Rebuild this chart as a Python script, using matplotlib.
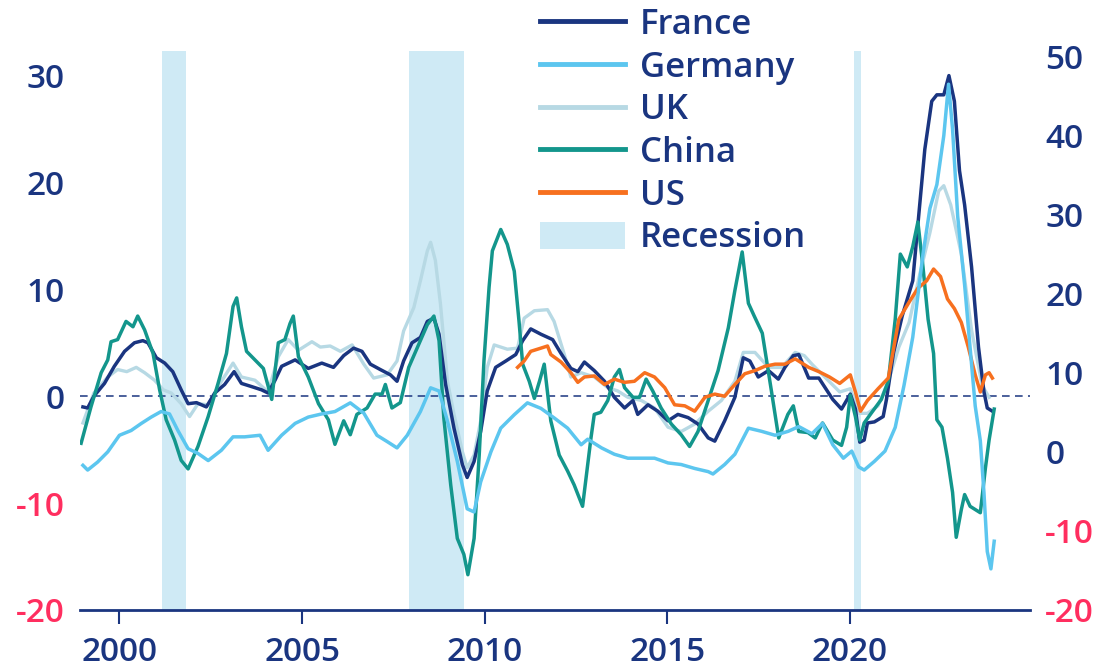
import numpy as np
import matplotlib.pyplot as plt
from matplotlib.lines import Line2D
from matplotlib.patches import Patch

plt.rcParams.update({
    "font.family": ["Open Sans", "DejaVu Sans"],
    "font.size": 24,
    "font.weight": 600,
})

NAVY = "#1a3580"
RED = "#ff2e5f"

# year-on-year %
france_t = [1999.0, 1999.13, 1999.3, 1999.59, 1999.86, 2000.14, 2000.41, 2000.64, 2000.78, 2001.01,
            2001.24, 2001.46, 2001.69, 2001.88, 2002.11, 2002.38, 2002.61, 2002.88, 2003.14, 2003.34,
            2003.62, 2003.89, 2004.07, 2004.26, 2004.44, 2004.81, 2005.17, 2005.54, 2005.86, 2006.14,
            2006.41, 2006.64, 2006.87, 2007.14, 2007.42, 2007.6, 2007.78, 2008.01, 2008.24, 2008.43,
            2008.61, 2008.75, 2008.93, 2009.16, 2009.39, 2009.52, 2009.71, 2009.89, 2010.07, 2010.3,
            2010.58, 2010.85, 2011.04, 2011.26, 2011.54, 2011.86, 2012.09, 2012.36, 2012.55, 2012.73,
            2013.0, 2013.28, 2013.55, 2013.83, 2014.06, 2014.19, 2014.47, 2014.74, 2015.02, 2015.29,
            2015.57, 2015.84, 2016.12, 2016.3, 2016.57, 2016.85, 2017.08, 2017.26, 2017.49, 2017.77,
            2018.04, 2018.22, 2018.45, 2018.6, 2018.87, 2019.15, 2019.34, 2019.53, 2019.77, 2020.01,
            2020.15, 2020.27, 2020.39, 2020.48, 2020.67, 2020.91, 2021.0, 2021.19, 2021.43, 2021.72,
            2021.91, 2022.05, 2022.24, 2022.38, 2022.57, 2022.71, 2022.86, 2023.0, 2023.14, 2023.33,
            2023.52, 2023.67, 2023.76, 2023.9]
france_v = [-1.0, -1.1, 0.0, 1.2, 2.8, 4.2, 5.0, 5.2, 5.0, 3.6,
            3.1, 2.3, 0.6, -0.7, -0.6, -1.0, 0.3, 1.1, 2.3, 1.2,
            0.9, 0.6, 0.3, 1.5, 2.8, 3.4, 2.6, 3.1, 2.7, 3.8,
            4.5, 4.2, 3.0, 2.5, 2.0, 1.4, 3.3, 5.0, 5.5, 7.0,
            7.3, 5.8, 1.1, -3.0, -6.4, -7.6, -6.1, -3.3, 0.5, 2.7,
            3.3, 3.9, 5.2, 6.3, 5.8, 5.3, 4.0, 2.6, 2.3, 3.2,
            2.4, 1.4, -0.1, -1.1, -0.4, -1.7, -0.8, -1.4, -2.3, -1.7,
            -2.0, -2.6, -3.9, -4.2, -2.3, -0.1, 3.6, 3.3, 1.8, 2.4,
            1.6, 2.7, 3.8, 3.9, 1.7, 1.7, 0.7, -0.3, -1.2, 0.2,
            -1.2, -4.3, -4.1, -2.5, -2.4, -1.9, -0.3, 4.0, 7.5, 10.8,
            17.9, 23.1, 27.6, 28.2, 28.2, 30.0, 27.6, 21.1, 17.9, 12.1,
            4.6, 0.4, -1.1, -1.4]

# Germany is on the right-hand scale
germany_t = [1999.0, 1999.13, 1999.4, 1999.68, 2000.0, 2000.32, 2000.6, 2000.87, 2001.14, 2001.37,
             2001.6, 2001.88, 2002.15, 2002.43, 2002.79, 2003.11, 2003.43, 2003.85, 2004.07, 2004.44,
             2004.81, 2005.17, 2005.54, 2005.9, 2006.32, 2006.69, 2007.05, 2007.33, 2007.6, 2007.88,
             2008.24, 2008.52, 2008.75, 2008.98, 2009.25, 2009.52, 2009.71, 2009.89, 2010.17, 2010.44,
             2010.81, 2011.17, 2011.54, 2011.9, 2012.27, 2012.64, 2012.82, 2013.2, 2013.55, 2013.92,
             2014.29, 2014.65, 2015.02, 2015.38, 2015.75, 2016.12, 2016.25, 2016.57, 2016.85, 2017.22,
             2017.58, 2017.95, 2018.31, 2018.6, 2018.96, 2019.25, 2019.53, 2019.82, 2020.05, 2020.24,
             2020.39, 2020.67, 2020.96, 2021.24, 2021.48, 2021.72, 2022.0, 2022.19, 2022.38, 2022.57,
             2022.7, 2022.81, 2022.95, 2023.14, 2023.43, 2023.57, 2023.67, 2023.76, 2023.86, 2023.95]
germany_v = [-1.7, -2.3, -1.3, 0.0, 2.1, 2.7, 3.6, 4.4, 5.1, 4.8,
             2.7, 0.4, -0.2, -1.1, 0.2, 1.9, 1.9, 2.1, 0.2, 2.1,
             3.6, 4.4, 4.8, 5.1, 6.2, 4.9, 2.1, 1.3, 0.5, 2.1,
             5.1, 8.1, 7.7, 3.9, -1.2, -7.2, -7.6, -3.8, 0.0, 3.0,
             4.7, 6.2, 5.5, 4.3, 3.0, 0.9, 1.6, 0.5, -0.3, -0.8,
             -0.8, -0.8, -1.4, -1.6, -2.1, -2.5, -2.8, -1.6, -0.3, 3.0,
             2.6, 2.1, 2.6, 3.2, 2.3, 3.6, 0.9, -0.8, 0.1, -1.9,
             -2.3, -1.2, 0.1, 3.1, 8.4, 14.5, 25.0, 30.8, 33.8, 40.0,
             46.5, 40.8, 29.8, 21.1, 5.8, 1.4, -5.2, -12.6, -14.8, -11.3]

uk_t = [1999.0, 1999.3, 1999.68, 1999.95, 2000.2, 2000.46, 2000.69, 2000.96, 2001.2, 2001.42,
        2001.69, 2001.92, 2002.15, 2002.43, 2002.7, 2003.11, 2003.34, 2003.71, 2004.07, 2004.35,
        2004.62, 2004.9, 2005.27, 2005.5, 2005.77, 2006.05, 2006.37, 2006.69, 2006.96, 2007.33,
        2007.6, 2007.78, 2008.06, 2008.24, 2008.43, 2008.52, 2008.65, 2008.79, 2008.98, 2009.16,
        2009.39, 2009.52, 2009.71, 2009.89, 2010.07, 2010.26, 2010.62, 2010.9, 2011.08, 2011.36,
        2011.72, 2011.9, 2012.18, 2012.36, 2012.64, 2013.0, 2013.37, 2013.64, 2013.92, 2014.29,
        2014.65, 2015.02, 2015.38, 2015.75, 2016.12, 2016.48, 2016.85, 2017.08, 2017.4, 2017.77,
        2018.13, 2018.5, 2018.75, 2018.96, 2019.34, 2019.72, 2020.01, 2020.24, 2020.48, 2020.77,
        2021.05, 2021.34, 2021.62, 2021.91, 2022.19, 2022.43, 2022.57, 2022.76, 2023.05, 2023.33,
        2023.62, 2023.81]
uk_v = [-2.5, 0.3, 1.8, 2.5, 2.3, 2.7, 2.2, 1.5, 0.6, 0.3,
        -0.7, -1.9, -0.7, -0.8, 0.9, 3.1, 1.8, 1.5, 0.4, 3.7,
        5.3, 4.3, 5.1, 4.6, 4.7, 4.2, 4.8, 3.0, 1.7, 2.0,
        3.3, 6.1, 8.3, 10.8, 13.6, 14.4, 12.7, 8.6, 1.4, -1.7,
        -5.2, -6.7, -5.5, -2.3, 2.7, 4.8, 4.4, 4.5, 7.3, 8.0,
        8.1, 7.0, 3.9, 1.8, 2.2, 1.8, 0.8, 0.5, -0.1, -0.4,
        -1.1, -2.9, -3.3, -2.6, -1.4, -0.4, 1.4, 4.1, 4.1, 2.7,
        2.7, 4.1, 3.8, 3.0, 1.7, 0.4, 0.7, -1.6, -1.6, -0.9,
        1.4, 4.6, 6.9, 11.4, 15.3, 19.2, 19.7, 17.9, 13.3, 6.2,
        1.0, -0.1]

china_t = [1998.95, 1999.22, 1999.5, 1999.68, 1999.77, 1999.95, 2000.18, 2000.37, 2000.5, 2000.69,
           2000.92, 2001.1, 2001.28, 2001.51, 2001.69, 2001.88, 2002.15, 2002.43, 2002.7, 2002.93,
           2003.11, 2003.21, 2003.34, 2003.48, 2003.71, 2003.94, 2004.17, 2004.35, 2004.53, 2004.67,
           2004.76, 2004.9, 2005.17, 2005.45, 2005.72, 2005.9, 2006.14, 2006.32, 2006.5, 2006.78,
           2007.0, 2007.19, 2007.28, 2007.46, 2007.69, 2007.92, 2008.15, 2008.43, 2008.61, 2008.75,
           2008.88, 2009.07, 2009.25, 2009.43, 2009.54, 2009.71, 2009.85, 2009.98, 2010.12, 2010.21,
           2010.44, 2010.62, 2010.81, 2010.94, 2011.04, 2011.22, 2011.36, 2011.5, 2011.63, 2011.81,
           2012.04, 2012.27, 2012.45, 2012.68, 2012.91, 2013.0, 2013.18, 2013.37, 2013.55, 2013.69,
           2013.83, 2014.06, 2014.24, 2014.42, 2014.6, 2014.83, 2015.11, 2015.38, 2015.61, 2015.84,
           2016.12, 2016.39, 2016.67, 2016.85, 2017.05, 2017.22, 2017.38, 2017.6, 2017.85, 2018.05,
           2018.3, 2018.45, 2018.6, 2018.85, 2019.05, 2019.25, 2019.53, 2019.77, 2019.91, 2020.01,
           2020.15, 2020.27, 2020.39, 2020.58, 2020.86, 2021.05, 2021.24, 2021.38, 2021.57, 2021.72,
           2021.86, 2022.0, 2022.14, 2022.29, 2022.38, 2022.52, 2022.67, 2022.81, 2022.91, 2023.05,
           2023.14, 2023.29, 2023.43, 2023.57, 2023.71, 2023.81, 2023.95]
china_v = [-4.4, -1.0, 2.2, 3.4, 5.1, 5.3, 7.0, 6.5, 7.5, 6.2,
           4.0, 0.6, -2.2, -4.1, -6.0, -6.8, -4.7, -1.9, 1.2, 4.0,
           8.4, 9.2, 6.5, 4.2, 3.4, 2.6, -0.3, 5.0, 5.3, 6.8,
           7.5, 3.7, 1.8, -0.7, -2.2, -4.5, -2.3, -3.6, -1.7, -1.1,
           0.2, 0.2, 1.1, -1.1, -0.6, 2.7, 4.5, 6.7, 7.5, 5.2,
           -2.0, -8.3, -13.3, -14.8, -16.7, -13.3, -5.5, 3.3, 10.2, 13.6,
           15.6, 14.2, 11.7, 7.0, 3.0, 1.4, -0.2, 1.4, 3.0, -2.3,
           -5.5, -7.0, -8.3, -10.3, -3.9, -1.7, -1.5, -0.4, 1.8, 2.5,
           0.8, -0.1, -0.1, 1.6, 0.5, -1.1, -2.6, -3.6, -4.7, -3.3,
           -0.4, 2.4, 6.4, 9.9, 13.5, 8.7, 7.5, 5.9, 0.5, -3.9,
           -1.7, -0.9, -3.3, -3.4, -3.9, -2.5, -4.1, -4.6, -2.9, 0.1,
           -1.9, -4.1, -2.5, -1.6, -0.3, 1.4, 7.2, 13.3, 12.1, 14.0,
           16.3, 12.1, 7.2, 4.0, -2.2, -2.9, -5.8, -9.0, -13.2, -10.6,
           -9.2, -10.3, -10.6, -10.9, -6.7, -4.1, -1.2]

us_t = [2010.9, 2011.08, 2011.26, 2011.54, 2011.72, 2011.81, 2012.09, 2012.36, 2012.55, 2012.73,
        2013.0, 2013.28, 2013.55, 2013.83, 2014.1, 2014.38, 2014.65, 2014.93, 2015.2, 2015.48,
        2015.75, 2016.03, 2016.3, 2016.57, 2016.85, 2017.12, 2017.4, 2017.67, 2017.95, 2018.22,
        2018.5, 2018.87, 2019.15, 2019.44, 2019.72, 2020.01, 2020.15, 2020.29, 2020.48, 2020.77,
        2021.05, 2021.34, 2021.62, 2021.86, 2022.1, 2022.29, 2022.48, 2022.67, 2022.86, 2023.05,
        2023.24, 2023.43, 2023.57, 2023.71, 2023.81, 2023.9]
us_v = [2.7, 3.3, 4.2, 4.5, 4.7, 3.9, 3.2, 2.2, 1.3, 1.8,
        1.9, 1.1, 1.6, 1.3, 1.4, 2.2, 1.8, 0.8, -0.8, -0.9,
        -1.4, -0.1, 0.2, 0.0, 1.1, 2.1, 2.4, 2.8, 3.0, 3.0,
        3.5, 2.7, 2.3, 1.8, 1.2, 2.0, 0.4, -1.4, -0.4, 0.7,
        1.7, 7.2, 8.8, 10.1, 10.8, 11.9, 11.2, 9.1, 8.2, 6.9,
        4.6, 2.0, 0.4, 2.0, 2.2, 1.7]

recessions = [(2001.17, 2001.83), (2007.92, 2009.42), (2020.12, 2020.3)]

left_ticks = [-20, -10, 0, 10, 20, 30]
right_ticks = [-20, -10, 0, 10, 20, 30, 40, 50]
year_ticks = [2000, 2005, 2010, 2015, 2020]

fig = plt.figure(figsize=(10.99, 6.71), dpi=100)
ax = fig.add_axes([80 / 1099, 61 / 671, 950 / 1099, 559 / 671])
ax2 = ax.twinx()

for a, b in recessions:
    ax.axvspan(a, b, color="#cfeaf5", lw=0, zorder=0)
ax.axhline(0, color=NAVY, lw=1.1, ls=(0, (5, 3.5)), zorder=1)

ax.plot(uk_t, uk_v, color="#b7d9e4", lw=2.4, zorder=2)
ax.plot(france_t, france_v, color=NAVY, lw=2.5, zorder=3)
ax.plot(china_t, china_v, color="#13968c", lw=2.5, zorder=4)
ax.plot(us_t, us_v, color="#f7701f", lw=2.5, zorder=5)
ax2.plot(germany_t, germany_v, color="#5cc6ef", lw=2.5)

ax.set_xlim(1998.92, 2024.93)
ax.set_ylim(-20, 32.3)
ax2.set_ylim(-20, 50.7)

for a in (ax, ax2):
    for s in ["top", "left", "right"]:
        a.spines[s].set_visible(False)
ax2.spines["bottom"].set_visible(False)
ax.spines["bottom"].set_color(NAVY)
ax.spines["bottom"].set_linewidth(2)

ax.set_xticks(year_ticks)
ax.set_xticklabels([str(y) for y in year_ticks])
ax.tick_params(axis="x", length=10, width=1.5, color=NAVY, labelcolor=NAVY, pad=9)

ax.set_yticks(left_ticks)
ax.tick_params(axis="y", length=0, pad=11)
ax2.set_yticks(right_ticks)
ax2.tick_params(axis="y", length=0, pad=11)
for a, ticks in ((ax, left_ticks), (ax2, right_ticks)):
    a.set_yticklabels([str(t) for t in ticks])
    for lab, t in zip(a.get_yticklabels(), ticks):
        lab.set_color(RED if t < 0 else NAVY)

handles = [
    Line2D([], [], color=NAVY, lw=3.5),
    Line2D([], [], color="#5cc6ef", lw=3.5),
    Line2D([], [], color="#b7d9e4", lw=3.5),
    Line2D([], [], color="#13968c", lw=3.5),
    Line2D([], [], color="#f7701f", lw=3.5),
    Patch(facecolor="#cfeaf5", edgecolor="none"),
]
labels = ["France", "Germany", "UK", "China", "US", "Recession"]
leg = fig.legend(handles, labels, loc="upper left", bbox_to_anchor=(540 / 1099, 1 - 8 / 671),
                 frameon=False, fontsize=25, handlelength=2.45, handleheight=0.8, handletextpad=0.43,
                 labelspacing=0.25, borderpad=0, borderaxespad=0)
for t in leg.get_texts():
    t.set_color(NAVY)

plt.savefig("out.png", dpi=100)
plt.close()
